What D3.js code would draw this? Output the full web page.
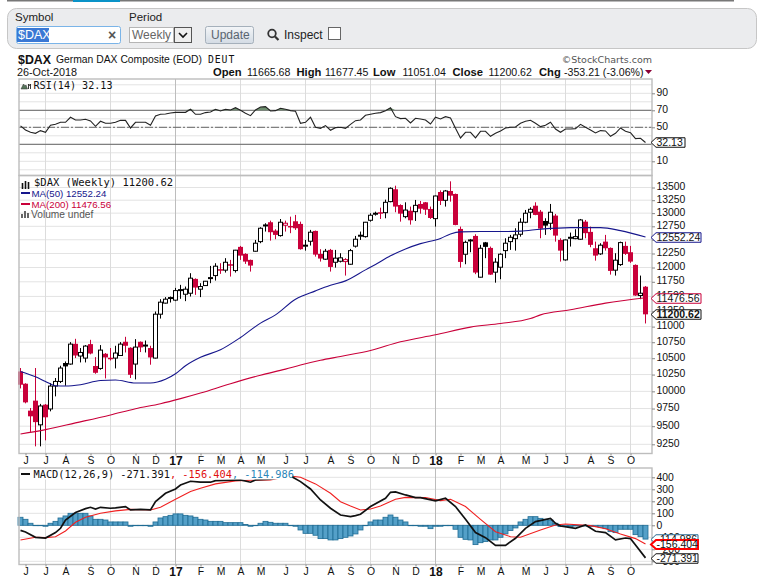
<!DOCTYPE html>
<html><head><meta charset="utf-8">
<script src="https://cdn.jsdelivr.net/npm/d3@7"></script>
<style>
html,body{margin:0;padding:0;background:#fff;overflow:hidden}
text{font-family:"Liberation Sans",Arial,sans-serif;fill:#111}
.mono{font-family:"DejaVu Sans Mono",monospace}
</style></head><body>
<svg id="c" width="763" height="578"></svg>
<script>
// ---------- data ----------
const opens=[10297,10113,9720,9864,9519,9806,9744,10078,10147,10426,
10410,10725,10534,10502,10720,10380,10343,10569,10507,10502,
10542,10757,10663,10410,10757,10694,10658,10502,11203,11387,
11470,11437,11606,11537,11554,11800,11623,11685,11813,11858,
11970,11953,12058,11946,12370,12243,12135,12291,12466,12757,
12827,12670,12577,12770,12757,12845,12795,12383,12473,12664,
12243,12148,12315,12093,12111,12105,12058,12383,12571,12558,
12864,12985,13017,13009,13222,13465,13156,12933,13046,13028,
13177,13209,13080,12895,13411,13248,13431,13372,12701,12237,
12484,12571,11830,12453,12351,11918,12005,12302,12466,12521,
12602,12827,13017,13143,13028,12851,12808,12953,12497,12135,
12534,12521,12510,12838,12646,12345,12243,12466,12351,11953,
12052,12388,12273,12046,11515,11665.68];
const highs=[10349,10120,9758,10349,9817,9815,10123,10198,10384,10450,
10752,10804,10658,10705,10788,10517,10705,10580,10658,10694,
10752,10836,10670,10799,10762,10777,10694,11247,11453,11488,
11498,11645,11697,11668,11900,11810,11726,11765,12028,12076,
12076,12166,12135,12315,12388,12255,12140,12497,12733,12808,
12857,12696,12888,12857,12933,12966,12838,12497,12683,12670,
12328,12333,12333,12315,12255,12166,12333,12571,12652,12833,
12998,13028,13105,13261,13504,13536,13170,13209,13126,13255,
13235,13215,13126,13340,13443,13451,13623,13380,12745,12484,
12516,12602,12407,12460,12376,12166,12255,12528,12590,12714,
12902,13061,13113,13209,13061,12902,13177,12985,12528,12505,
12633,12696,12889,12870,12745,12466,12437,12590,12360,12255,
12466,12466,12388,12055,11858,11677.45];
const lows=[10043,9825,9420,9222,9222,9304,9710,9926,10123,10083,
10400,10502,10435,10435,10560,10262,10323,10192,10465,10343,
10535,10589,10198,10177,10595,10589,10400,10495,11131,11380,
11397,11420,11459,11420,11498,11526,11488,11680,11726,11771,
11888,11911,11841,11911,12135,12064,11928,12285,12437,12652,
12484,12510,12558,12652,12622,12683,12320,12302,12394,12194,
12105,12135,11928,11998,12090,11858,12050,12357,12497,12540,
12838,12953,12889,12902,13209,13017,12838,12902,12782,12851,
12990,12966,12889,12745,13156,13126,13222,12770,11998,12058,
12273,11883,11825,12166,11870,11735,11795,12166,12315,12302,
12558,12808,12902,12960,12528,12590,12683,12466,12105,12122,
12376,12510,12497,12528,12364,12122,12225,12302,11875,11858,
12028,12225,12082,11510,11453,11051.04];
const closes=[10098,9839,9639,9557,9787,9625,10078,10147,10349,10374,
10720,10542,10589,10689,10573,10277,10626,10512,10496,10580,
10720,10694,10247,10673,10668,10705,10512,11203,11403,11453,
11481,11599,11616,11623,11813,11651,11668,11760,11823,12023,
11953,12093,12046,12310,12212,12105,12034,12437,12714,12776,
12640,12590,12827,12808,12745,12714,12328,12401,12640,12230,
12159,12291,12010,12166,12172,12140,12302,12510,12584,12827,
12960,12998,12990,13209,13484,13126,12990,13059,12864,13150,
13085,13066,12908,13332,13235,13431,13339,12776,12099,12453,
12497,11911,12345,12370,11875,12095,12237,12437,12546,12590,
12827,12998,13074,12966,12707,12763,13017,12577,12302,12497,
12546,12558,12870,12622,12407,12212,12401,12345,11940,12130,
12448,12243,12105,11515,11553.83,11200.62];

const ma50Weeks=[0,3,5,7,9,12,16,19,23,26,29,31,33,36,40,44,48,51,55,59,62,65,69,71,74,77,80,84,86,88,92,96,100,104,110,116,120,125];
const ma50Values=[10297,10217,10147,10083,10078,10098,10162,10168,10123,10123,10179,10262,10384,10514,10631,10825,11057,11192,11453,11594,11690,11766,11958,12055,12208,12333,12429,12525,12608,12646,12652,12652,12660,12696,12726,12726,12670,12552.24];
const ma200Weeks=[0,5,11,18,23,28,32,36,42,48,53,56,60,64,70,76,83,90,96,102,104,110,117,125];
const ma200Values=[9392,9452,9546,9659,9748,9820,9893,9975,10113,10240,10333,10395,10468,10527,10620,10757,10868,10992,11050,11131,11192,11275,11387,11476.56];

const rsiValues=[51.6,46.9,44.1,42.9,46.1,44.1,52.4,53.5,55.9,55.9,
61.8,58.6,58.6,59.4,57.5,51.2,57.1,54.7,54.7,55.9,
58.2,58.2,49.2,55.9,55.9,55.9,52.4,63.3,65.3,65.7,
66.9,67.6,67.6,67.6,71.2,65.3,65.3,67.3,68,71.2,
69.2,71.2,70.4,73.1,70,66.5,63.7,70.4,73.9,74.3,
69.2,69.6,72.4,71.2,69.6,68.8,54.7,55.9,61.8,50,
48.8,52,46.5,49.6,50,48.8,53.5,57.8,58.6,64.1,
65.3,66.5,67.3,69.6,73.1,62.5,60.2,60.6,55.1,60.6,
59.8,58.6,53.9,61.8,59.8,62.5,61,48.8,37.5,44.1,
44.1,37.5,45.3,45.3,39.4,42.9,45.7,49.2,50,50.4,
54.7,57.1,58.2,54.7,50.8,52.4,55.9,48,44.1,48,
48,48.4,53.5,50,46.9,43.3,46.1,45.7,39.4,42.9,
49.2,45.3,43.7,36.7,37.1,32.13];

const macdWeeks=[0,1,3,5,7,8,9,11,13,14,15,16,18,19,21,22,24,26,27,29,31,32,34,36,38,39,41,44,46,47,50,54,56,58,60,62,64,66,67,68,70,73,74,75,77,79,80,83,85,87,89,91,93,95,97,99,101,103,106,107,108,111,113,115,117,119,121,122,123,125];
const macdValues=[-42,-56,-100,-106,-61,-25,44,106,139,150,136,150,142,145,156,128,133,128,197,267,303,336,367,359,359,372,375,378,359,378,384,411,364,303,211,142,86,72,81,92,156,225,275,278,253,231,231,203,225,156,50,-61,-103,-167,-167,-108,-25,31,58,17,-6,-25,3,-50,-61,-122,-106,-111,-164,-271.391];
const signalWeeks=[0,3,5,7,9,11,13,16,19,22,26,28,31,34,36,39,43,46,50,54,56,59,62,64,66,68,70,72,75,77,81,84,86,89,92,95,98,100,104,107,109,114,117,120,123,125];
const signalValues=[-122,-100,-103,-95,-47,25,67,100,120,133,128,150,217,281,309,345,370,375,378,411,400,345,267,197,161,128,136,161,217,233,231,206,217,156,50,-53,-95,-100,-39,3,11,-3,-28,-72,-111,-156.404];
const histValues=[67,50,17,0,-3,-8,17,33,61,78,
100,100,100,100,78,50,50,44,28,28,
28,28,-8,0,0,0,-8,28,61,72,
83,95,95,83,78,67,50,44,33,33,
33,22,22,22,22,6,-8,0,17,33,
25,17,17,17,0,-8,-39,-67,-67,-83,
-111,-111,-122,-122,-111,-100,-89,-72,-39,0,
28,44,44,67,86,67,44,28,0,0,
-8,-8,-28,-8,-8,0,0,-33,-100,-117,
-122,-161,-145,-136,-122,-122,-100,-72,-44,-22,
28,50,72,72,58,50,44,17,-11,-11,
-11,-6,0,-6,-11,-11,-17,-28,-53,-61,
-33,-33,-33,-78,-95,-114.986];

const priceTicks=[9250,9500,9750,10000,10250,10500,10750,11000,11250,11500,11750,12000,12250,12500,12750,13000,13250,13500];
const rsiTicks=[10,50,70,90];
const rsiGrid=[0,10,20,30,40,50,60,70,80,90,100];
const macdTicks=[-300,-200,-100,0,100,200,300,400];
const monthWeeks=[1,5,9,14,18,23,27,31,36,40,44,48,53,57,62,66,70,75,79,83,88,92,96,101,105,109,114,118,122];
const monthLabels=["J","J","A","S","O","N","D","17","F","M","A","M","J","J","A","S","O","N","D","18","F","M","A","M","J","J","A","S","O"];
const quarterWeeks=[5,18,31,44,57,70,83,96,109,122];
const yearWeeks=[31,83];

// ---------- scales ----------
const svg=d3.select("#c");
const L=19,R=652;
const x=d3.scaleLinear().domain([0,125]).range([20.5,645.5]);
const yR=d3.scaleLinear().domain([30,70]).range([144.3,110.3]);
const yP=d3.scaleLog().domain([9250,13500]).range([444.3,187.5]);
const yM=d3.scaleLinear().domain([0,400]).range([525.3,477.3]);
const panels=[{t:79,b:175.5},{t:175.5,b:453.5},{t:468,b:564.5}];
const RED="#c9003a",NAVY="#16168c",GRID="#e3e3e3";

// ---------- toolbar ----------
svg.append("rect").attr("x",7).attr("y",0).attr("width",727).attr("height",1.5).attr("fill","#777");
svg.append("rect").attr("x",73).attr("y",0).attr("width",47).attr("height",2).attr("fill","#0a93c8");
svg.append("rect").attr("x",7.5).attr("y",8.5).attr("width",749).attr("height",40).attr("rx",9).attr("fill","#ebecee").attr("stroke","#c6c6c6");
const t=(s,xx,yy,size,opt={})=>{const e=svg.append("text").attr("x",xx).attr("y",yy).attr("font-size",size).text(s);
  if(opt.fill)e.style("fill",opt.fill);if(opt.bold)e.attr("font-weight","bold");if(opt.anchor)e.attr("text-anchor",opt.anchor);if(opt.cls)e.attr("class",opt.cls);if(opt.ls)e.attr("letter-spacing",opt.ls);return e;};
t("Symbol",15,21,11.5,{fill:"#222"});
t("Period",129,21,11.5,{fill:"#222"});
svg.append("rect").attr("x",16.5).attr("y",26.5).attr("width",104).attr("height",17).attr("rx",2).attr("fill","#fff").attr("stroke","#7ab4e8");
svg.append("rect").attr("x",17).attr("y",28).attr("width",32).attr("height",14).attr("fill","#3a78d4");
t("$DAX",18,39,12.5,{fill:"#fff"});
t("×",108,39.5,14,{fill:"#555",bold:true});
svg.append("rect").attr("x",129.5).attr("y",27.5).attr("width",44).attr("height",15).attr("fill","#fff").attr("stroke","#b5b5b5");
t("Weekly",132,39,12,{fill:"#666"});
svg.append("rect").attr("x",174.5).attr("y",27.5).attr("width",17).attr("height",15).attr("fill","#eee").attr("stroke","#555");
svg.append("path").attr("d","M179 33l4 4 4-4").attr("fill","none").attr("stroke","#111").attr("stroke-width",1.6);
const grad=svg.append("defs").append("linearGradient").attr("id","btn").attr("x1",0).attr("x2",0).attr("y1",0).attr("y2",1);
grad.append("stop").attr("offset",0).attr("stop-color","#f4f6f8");grad.append("stop").attr("offset",1).attr("stop-color","#d3dbe4");
svg.append("rect").attr("x",205.5).attr("y",26.5).attr("width",48).attr("height",17).attr("rx",2).attr("fill","url(#btn)").attr("stroke","#a5b0bb");
t("Update",211,39,12,{fill:"#5a6570"});
svg.append("circle").attr("cx",272).attr("cy",33.5).attr("r",3.8).attr("fill","none").attr("stroke","#333").attr("stroke-width",1.8);
svg.append("path").attr("d","M275 36.5l3.5 3.5").attr("stroke","#333").attr("stroke-width",2.2);
t("Inspect",284,39,12,{fill:"#222"});
svg.append("rect").attr("x",328.5).attr("y",27.5).attr("width",12).attr("height",12).attr("fill","#fff").attr("stroke","#666");

// ---------- header ----------
t("$DAX",18,64,12.4,{bold:true});
t("German DAX Composite (EOD)",56,63,10.35);
t("DEUT",208,63,9.8,{cls:"mono"}).attr("letter-spacing",.9);
t("©StockCharts.com",652,63,9.5,{anchor:"end",fill:"#555"}).style("font-family","DejaVu Sans");
t("26-Oct-2018",17,76,10.8);
[["Open",213,1],["11665.68",247,0],["High",296.5,1],["11677.45",325,0],["Low",373,1],["11051.04",402.5,0],["Close",452.5,1],["11200.62",488.5,0],["Chg",539,1],["-353.21 (-3.06%)",564,0]]
 .forEach(d=>t(d[0],d[1],76,d[2]?11.2:10.6,{bold:!!d[2]}));
svg.append("path").attr("d","M645 70h7l-3.5 4z").attr("fill","#8a0035");

// ---------- grids ----------
const grid=svg.append("g");
rsiGrid.forEach(v=>grid.append("line").attr("x1",L).attr("x2",R).attr("y1",yR(v)).attr("y2",yR(v)).attr("stroke",GRID));
priceTicks.forEach(v=>grid.append("line").attr("x1",L).attr("x2",R).attr("y1",yP(v)).attr("y2",yP(v)).attr("stroke",GRID));
macdTicks.forEach(v=>grid.append("line").attr("x1",L).attr("x2",R).attr("y1",yM(v)).attr("y2",yM(v)).attr("stroke",GRID));
panels.forEach(p=>quarterWeeks.forEach(w=>grid.append("line").attr("x1",x(w)).attr("x2",x(w)).attr("y1",p.t).attr("y2",p.b)
  .attr("stroke",yearWeeks.includes(w)?"#bdbdbd":"#dcdcdc")));

// ---------- RSI panel ----------
[70,30].forEach(v=>svg.append("line").attr("x1",L).attr("x2",R).attr("y1",yR(v)).attr("y2",yR(v)).attr("stroke","#666"));
svg.append("line").attr("x1",L).attr("x2",R).attr("y1",yR(50)).attr("y2",yR(50)).attr("stroke","#666").attr("stroke-dasharray","8 2 2 2");
const rsiData=rsiValues.map((v,i)=>({i,v}));
svg.append("path").datum(rsiData).attr("fill","#6f8f6f")
 .attr("d",d3.area().x(d=>x(d.i)).y0(yR(70)).y1(d=>yR(Math.max(d.v,70))));
svg.append("path").datum(rsiData).attr("fill","none").attr("stroke","#222").attr("stroke-width",1.1)
 .attr("d",d3.line().x(d=>x(d.i)).y(d=>yR(d.v)));
svg.append("path").attr("d","M21 89l2.5-5 1.5 2 1 -1 1.5 4z").attr("fill","#55755a").attr("stroke","#333").attr("stroke-width",.5);
svg.append("path").attr("d","M28.5 89v-5l1 1.5 1-1.5v5").attr("fill","none").attr("stroke","#222").attr("stroke-width",.9);
t("RSI(14) 32.13",33.5,89,10.1,{cls:"mono"});

// ---------- price panel ----------
const cg=svg.append("g");
const candles=d3.range(opens.length).map(i=>{const o=opens[i],c=closes[i],prev=i?closes[i-1]:o;
  return {i,o,h:highs[i],l:lows[i],c,hollow:c>=o,col:c>=prev?"#000":RED};});
cg.selectAll("line").data(candles).join("line").attr("x1",d=>x(d.i)).attr("x2",d=>x(d.i))
  .attr("y1",d=>yP(d.h)).attr("y2",d=>yP(d.l)).attr("stroke",d=>d.col).attr("stroke-width",1);
cg.selectAll("rect").data(candles).join("rect")
  .attr("x",d=>x(d.i)-(d.hollow?2:2.5)).attr("width",d=>d.hollow?4:5)
  .attr("y",d=>yP(Math.max(d.o,d.c))).attr("height",d=>Math.max(yP(Math.min(d.o,d.c))-yP(Math.max(d.o,d.c)),d.hollow?1:1.5))
  .attr("fill",d=>d.hollow?"#fff":d.col).attr("stroke",d=>d.hollow?d.col:"none").attr("stroke-width",1);
const maLine=(wk,vals,col,w)=>svg.append("path").datum(vals.map((v,k)=>({w:wk[k],v}))).attr("fill","none").attr("stroke",col).attr("stroke-width",w)
  .attr("d",d3.line().curve(d3.curveMonotoneX).x(d=>x(d.w)).y(d=>yP(d.v)));
maLine(ma50Weeks,ma50Values,NAVY,1.1);
maLine(ma200Weeks,ma200Values,RED,1.1);
svg.append("path").attr("d","M22.5 183v6M25.5 181v8M28.5 182v7").attr("stroke","#111").attr("stroke-width",1.6);
t("$DAX (Weekly) 11200.62",34,186,10.5,{cls:"mono"});
svg.append("rect").attr("x",21).attr("y",192).attr("width",9).attr("height",2).attr("fill",NAVY);
t("MA(50) 12552.24",31.5,197,9.7,{fill:NAVY});
svg.append("rect").attr("x",21).attr("y",203).attr("width",9).attr("height",2).attr("fill",RED);
t("MA(200) 11476.56",31.5,208,9.7,{fill:RED});
svg.append("path").attr("d","M21 218v-4h2v4zM24 218v-7h2v7zM27 218v-5h2v5z").attr("fill","#666");
t("Volume undef",31,218,10.2,{fill:"#555"});

// ---------- MACD panel ----------
const hist=svg.append("g");
hist.selectAll("rect").data(histValues.map((v,i)=>({i,v}))).join("rect")
  .attr("x",d=>x(d.i)-2.5).attr("width",5)
  .attr("y",d=>Math.min(yM(d.v),yM(0))).attr("height",d=>Math.max(Math.abs(yM(d.v)-yM(0)),.4))
  .attr("fill","#54a0c8").attr("stroke","#1f6c94").attr("stroke-width",.8);
const mLine=(wk,vals,col,w)=>svg.append("path").datum(vals.map((v,k)=>({w:wk[k],v}))).attr("fill","none").attr("stroke",col).attr("stroke-width",w)
  .attr("d",d3.line().x(d=>x(d.w)).y(d=>yM(d.v)));
mLine(signalWeeks,signalValues,"#f02020",1.1);
mLine(macdWeeks,macdValues,"#111",1.7);
svg.append("rect").attr("x",20).attr("y",469).attr("width",272).attr("height",10.5).attr("fill","#fff");
svg.append("rect").attr("x",21).attr("y",473).attr("width",9).attr("height",2).attr("fill","#111");
const leg=svg.append("text").attr("x",33.5).attr("y",478).attr("font-size",10.3).attr("class","mono");
leg.append("tspan").text("MACD(12,26,9) -271.391");
leg.append("tspan").style("fill","#e01010").text(", -156.404");
leg.append("tspan").style("fill","#2b86b8").text(", -114.986");

// ---------- frames ----------
const frame=svg.append("g").attr("fill","none").attr("stroke","#bdbdbd").attr("stroke-width",1.4);
panels.forEach(p=>frame.append("rect").attr("x",L).attr("y",p.t).attr("width",R-L).attr("height",p.b-p.t));

// ---------- axes ----------
const styleAxis=dy=>g=>{g.select(".domain").remove();g.selectAll("line").attr("stroke","#888");g.selectAll("text").attr("font-size",10.4).attr("font-family",null).attr("transform",`translate(0,${dy})`).style("font-family",'"Liberation Sans",Arial,sans-serif').style("fill","#111");};
const axR=(scale,vals)=>d3.axisRight(scale).tickValues(vals).tickSize(3).tickPadding(1.5).tickFormat(d3.format("d"));
svg.append("g").attr("transform",`translate(${R},0)`).call(axR(yR,rsiTicks)).call(styleAxis(-1));
svg.append("g").attr("transform",`translate(${R},0)`).call(axR(yP,priceTicks)).call(styleAxis(-1.3));
svg.append("g").attr("transform",`translate(${R},0)`).call(axR(yM,macdTicks)).call(styleAxis(0));
const axB=d3.axisBottom(x).tickValues(monthWeeks).tickSize(2).tickPadding(1).tickFormat(w=>monthLabels[monthWeeks.indexOf(w)]);
const bAx=g=>{styleAxis(0)(g);g.selectAll("text").each(function(){const s=d3.select(this);if(/^1[78]$/.test(s.text()))s.attr("font-weight","bold").attr("font-size",12);});};
svg.append("g").attr("transform",`translate(0,${panels[1].b})`).call(axB).call(bAx);
svg.append("g").attr("transform",`translate(0,${panels[2].b})`).call(axB).call(bAx);

// ---------- value flags ----------
function flag(v,scale,txt,col,wdt,opt={}){
  const yy=Math.round(scale(v))+.5+(opt.dy||0),h=opt.h||9.5,x0=656;
  svg.append("path").attr("d",`M${x0} ${yy-h/2}h${wdt}v${h}h${-wdt}l-5 ${-h/2}z`).attr("fill","#fff").attr("stroke",col).attr("stroke-width",opt.sw||1);
  t(txt,x0+.5,yy+3.8,opt.size||10.5,{bold:opt.bold,fill:"#111"});
}
flag(32.13,yR,"32.13","#111",29);
flag(12552.24,yP,"12552.24",NAVY,45);
flag(11476.56,yP,"11476.56",RED,45);
flag(11200.62,yP,"11200.62","#111",45,{bold:true});
flag(-114.986,yM,"-114.986","#2b6c94",42);
flag(-156.404,yM,"-156.404","#f00",42,{sw:2,h:9});
flag(-271.391,yM,"-271.391","#111",42);
</script>
</body></html>
